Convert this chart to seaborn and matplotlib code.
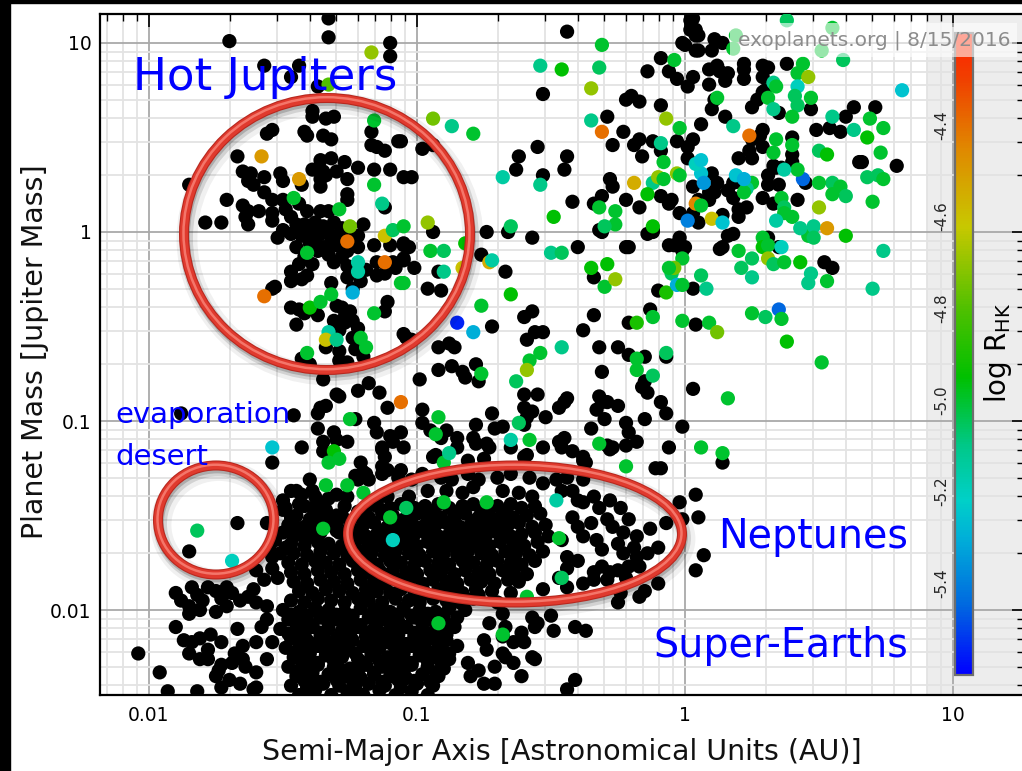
import numpy as np
import pandas as pd
import seaborn as sns
import matplotlib
matplotlib.use("Agg")
import matplotlib.pyplot as plt
from matplotlib.patches import Ellipse, Rectangle
from matplotlib.colors import LinearSegmentedColormap, Normalize
from matplotlib.cm import ScalarMappable
from matplotlib.ticker import FixedLocator, FixedFormatter, NullFormatter

# ---------------- data: (log10 a [AU], log10 M [M_Jup]) ----------------
hot_jupiters_black = [
    (-1.70,1.01),(-1.33,1.13),(-1.33,1.03),(-1.10,1.00),(-1.10,0.93),(-1.57,0.88),(-1.44,0.88),(-1.47,0.82),(-1.37,0.77),
    (-1.39,0.64),(-1.39,0.61),(-1.34,0.60),(-1.31,0.61),(-1.42,0.53),(-1.41,0.51),(-1.35,0.51),(-1.32,0.49),(-1.56,0.52),(-1.54,0.54),
    (-1.17,0.53),(-1.17,0.46),(-1.15,0.45),(-1.12,0.43),(-1.07,0.48),(-1.67,0.40),(-1.36,0.38),(-1.32,0.39),(-1.27,0.37),(-1.22,0.34),
    (-1.39,0.33),(-1.35,0.32),(-1.30,0.32),(-1.26,0.28),(-1.16,0.33),(-1.10,0.33),(-1.65,0.32),(-1.62,0.31),(-1.63,0.27),(-1.61,0.25),
    (-1.57,0.29),(-1.51,0.31),(-1.50,0.27),(-1.43,0.25),(-1.36,0.28),(-1.36,0.24),(-1.34,0.30),(-1.26,0.20),(-1.26,0.17),(-1.85,0.25),
    (-1.57,0.21),(-1.54,0.17),(-1.50,0.17),(-1.44,0.15),(-1.71,0.17),(-1.65,0.14),(-1.63,0.11),(-1.64,0.08),(-1.63,0.04),(-1.59,0.11),
    (-1.54,0.10),(-1.54,0.06),(-1.49,0.12),(-1.47,0.08),(-1.45,0.04),(-1.41,0.11),(-1.36,0.11),(-1.33,0.11),(-1.12,0.13),(-1.79,0.05),(-1.73,0.05),
    (-1.42,0.04),(-1.38,0.05),(-1.35,0.03),(-1.31,0.05),(-1.28,0.02),(-1.40,0.00),(-1.36,-0.01),(-1.33,0.00),(-1.29,-0.02),(-1.25,0.00),
    (-1.22,-0.02),(-1.38,-0.04),(-1.32,-0.05),(-1.27,-0.04),(-1.43,-0.02),(-1.20,0.04),(-1.47,-0.01),(-1.50,0.01),(-1.52,-0.03),
    (-1.40,-0.06),(-1.35,-0.08),(-1.30,-0.07),(-1.26,-0.10),(-1.33,-0.12),(-1.28,-0.13),(-1.37,-0.10),(-1.22,-0.08),(-1.45,-0.08),
    (-1.16,-0.07),(-1.10,-0.07),(-1.05,-0.07),(-1.05,-0.14),(-1.01,-0.19),(-1.54,-0.30),(-1.53,-0.29),
    (-1.47,-0.21),(-1.47,-0.26),(-1.43,-0.25),(-1.41,-0.23),(-1.39,-0.17),(-1.44,-0.17),(-1.42,-0.13),
    (-1.47,-0.40),(-1.44,-0.41),(-1.42,-0.43),(-1.37,-0.44),(-1.45,-0.49),(-1.34,-0.61),(-1.43,-0.67),(-1.29,-0.52),(-1.27,-0.48),(-1.31,-0.47),
    (-1.30,-0.39),(-1.28,-0.40),(-1.27,-0.45),(-1.25,-0.42),(-1.24,-0.47),(-1.22,-0.51),(-1.24,-0.56),(-1.23,-0.62),(-1.29,-0.63),(-1.26,-0.69),
    (-1.20,-0.66),(-1.40,-0.70),(-1.29,-0.68),(-1.32,-0.27),(-1.26,-0.24),(-1.24,-0.30),(-1.21,-0.26),(-1.31,-0.16),(-1.26,-0.18),(-1.24,-0.21),
    (-1.19,-0.20),(-1.15,-0.23),(-1.15,-0.16),(-1.12,-0.22),(-1.11,-0.37),(-1.12,-0.42),(-1.09,-0.16),(-1.08,-0.19),(-1.05,-0.54),(-1.04,-0.56),(-1.02,-0.57),
]

inner_black = [
    (-1.35,-0.78),(-1.29,-0.87),(-1.22,-0.84),(-1.18,-0.80),(-1.14,-0.85),(-1.11,-0.93),(-1.36,-0.93),(-1.34,-0.92),(-1.37,-1.04),(-1.31,-1.06),
    (-1.30,-1.10),(-1.26,-1.11),(-1.23,-0.99),(-1.16,-1.01),(-1.15,-1.06),(-1.10,-1.08),(-1.09,-1.11),(-1.06,-1.06),(-1.05,-1.14),(-1.35,-1.11),
    (-1.35,-1.16),(-1.43,-1.14),(-1.54,-1.22),(-1.46,-0.97),(-1.88,-0.96),(-1.37,-0.96),(-1.30,-0.86),(-1.13,-1.15),(-1.13,-1.24),(-1.19,-1.28),
    (-1.18,-1.31),(-1.40,-1.31),(-1.45,-1.37),(-1.43,-1.39),(-1.38,-1.40),(-1.39,-1.46),(-1.35,-1.44),(-1.30,-1.39),(-1.30,-1.50),(-1.21,-1.22),
    (-1.22,-1.31),(-1.15,-1.43),(-1.11,-1.50),(-1.35,-1.51),(-1.32,-1.51),(-1.49,-1.46),(-1.47,-1.51),(-1.50,-1.59),(-1.46,-1.61),(-1.46,-1.55),
    (-1.49,-1.67),(-1.51,-1.70),(-1.54,-1.78),(-1.52,-1.83),(-1.67,-1.54),(-1.85,-1.69),(-1.56,-1.54),(-1.57,-1.84),(-1.60,-1.79),(-1.54,-1.72),
    (-1.50,-1.47),(-1.42,-1.45),(-1.39,-1.37),(-1.47,-1.37),(-1.45,-1.50),(-1.40,-1.52),(-1.34,-1.47),(-1.27,-1.45),(-1.42,-1.56),
    (-1.50,-1.42),(-1.44,-1.44),(-1.38,-1.50),(-1.33,-1.41),(-1.28,-1.50),(-1.25,-1.53),(-1.30,-1.58),(-1.26,-1.62),(-1.48,-1.55),(-1.43,-1.60),
    (-1.36,-1.59),(-1.33,-1.55),(-1.22,-1.48),(-1.26,-1.40),(-1.53,-1.63),(-1.55,-1.68),
    (-1.13,-1.14),(-1.12,-1.19),(-1.06,-1.26),(-0.93,-1.18),(-0.85,-1.14),(-0.78,-1.12),(-0.73,-1.14),(-0.59,-1.18),(-0.53,-1.14),(-0.46,-1.14),
    (-0.38,-1.19),(-0.37,-1.22),(-0.27,-1.14),(-0.22,-1.13),(-0.09,-1.25),(-1.23,-1.29),(-1.20,-1.27),(-1.11,-1.26),
    (-1.13,-1.28),(-1.07,-1.30),(-1.02,-1.31),(-0.98,-1.28),(-0.91,-1.30),(-0.87,-1.31),(-0.81,-1.28),(-0.77,-1.31),(-0.70,-1.30),(-0.65,-1.28),
    (-0.58,-1.30),(-0.53,-1.33),(-0.48,-1.31),(-0.44,-1.30),(-0.38,-1.31),(-0.96,-1.37),(-0.89,-1.37),(-0.83,-1.38),(-0.79,-1.35),(-0.68,-1.37),
    (-0.62,-1.38),(-0.57,-1.40),(-0.46,-1.37),(-1.03,-1.40),(-1.11,-1.40),(-1.19,-1.46),(-1.22,-1.58),(-1.20,-1.72),(-1.14,-1.79),(-1.07,-1.84),
    (-0.98,-1.88),(-0.88,-1.91),(-0.77,-1.92),(-0.65,-1.91),(-0.53,-1.89),(-0.44,-1.88),(-0.34,-1.84),(-0.28,-1.80),(-0.17,-1.77),
]

neptune_core_black = [
    (-1.15,-1.45),(-1.10,-1.46),(-1.06,-1.44),(-1.01,-1.46),(-0.97,-1.45),(-0.92,-1.44),(-0.88,-1.46),(-0.83,-1.45),(-0.79,-1.44),(-0.74,-1.46),
    (-0.70,-1.45),(-0.65,-1.44),(-0.61,-1.46),(-0.56,-1.45),
    (-1.22,-1.50),(-1.18,-1.51),(-1.13,-1.49),(-1.09,-1.50),(-1.04,-1.51),(-1.00,-1.49),(-0.95,-1.50),(-0.91,-1.51),(-0.86,-1.50),(-0.82,-1.49),
    (-0.77,-1.51),(-0.73,-1.50),(-0.68,-1.49),(-0.64,-1.51),(-0.59,-1.50),(-0.54,-1.49),
    (-1.38,-1.55),(-1.30,-1.54),(-1.25,-1.56),(-1.20,-1.55),(-1.16,-1.54),(-1.11,-1.56),(-1.07,-1.55),(-1.02,-1.54),(-0.98,-1.56),(-0.93,-1.55),
    (-0.89,-1.54),(-0.84,-1.56),(-0.80,-1.55),(-0.75,-1.54),(-0.71,-1.56),(-0.66,-1.55),(-0.62,-1.54),(-0.57,-1.56),(-0.52,-1.55),
    (-1.44,-1.60),(-1.40,-1.61),(-1.29,-1.59),(-1.24,-1.60),(-1.19,-1.61),(-1.15,-1.60),(-1.10,-1.59),(-1.06,-1.61),(-1.01,-1.60),(-0.97,-1.59),
    (-0.92,-1.61),(-0.88,-1.60),(-0.83,-1.59),(-0.79,-1.61),(-0.74,-1.60),(-0.70,-1.59),(-0.65,-1.61),(-0.61,-1.60),(-0.56,-1.59),(-0.51,-1.61),
    (-1.47,-1.65),(-1.42,-1.66),(-1.37,-1.64),(-1.33,-1.65),(-1.28,-1.66),(-1.23,-1.64),(-1.18,-1.65),(-1.14,-1.66),(-1.09,-1.64),(-1.05,-1.65),
    (-1.00,-1.66),(-0.96,-1.64),(-0.91,-1.65),(-0.87,-1.66),(-0.82,-1.64),(-0.78,-1.65),(-0.73,-1.66),(-0.69,-1.64),(-0.64,-1.65),(-0.60,-1.66),(-0.55,-1.64),
    (-1.46,-1.70),(-1.41,-1.71),(-1.36,-1.69),(-1.31,-1.70),(-1.26,-1.71),(-1.21,-1.69),(-1.17,-1.70),(-1.12,-1.71),(-1.08,-1.69),(-1.03,-1.70),
    (-0.99,-1.71),(-0.94,-1.69),(-0.90,-1.70),(-0.85,-1.71),(-0.81,-1.69),(-0.76,-1.70),(-0.72,-1.71),(-0.67,-1.69),(-0.63,-1.70),(-0.58,-1.71),(-0.53,-1.69),
    (-1.48,-1.75),(-1.43,-1.76),(-1.38,-1.74),(-1.34,-1.75),(-1.29,-1.76),(-1.24,-1.74),(-1.19,-1.75),(-1.15,-1.76),(-1.10,-1.74),(-1.06,-1.75),
    (-1.01,-1.76),(-0.97,-1.74),(-0.92,-1.75),(-0.88,-1.76),(-0.83,-1.74),(-0.79,-1.75),(-0.74,-1.76),(-0.70,-1.74),(-0.65,-1.75),(-0.61,-1.76),(-0.56,-1.74),
    (-1.47,-1.80),(-1.42,-1.81),(-1.37,-1.79),(-1.32,-1.80),(-1.27,-1.81),(-1.22,-1.79),(-1.18,-1.80),(-1.13,-1.81),(-1.09,-1.79),(-1.04,-1.80),
    (-1.00,-1.81),(-0.95,-1.79),(-0.91,-1.80),(-0.86,-1.81),(-0.82,-1.79),(-0.77,-1.80),(-0.73,-1.81),(-0.68,-1.79),(-0.64,-1.80),(-0.59,-1.81),
    (-1.46,-1.85),(-1.41,-1.86),(-1.36,-1.84),(-1.31,-1.85),(-1.26,-1.86),(-1.21,-1.84),(-1.16,-1.85),(-1.12,-1.86),(-1.07,-1.84),(-1.03,-1.85),
    (-0.98,-1.86),(-0.94,-1.84),(-0.89,-1.85),(-0.85,-1.86),(-0.80,-1.84),(-0.76,-1.85),(-0.71,-1.86),(-0.66,-1.84),(-0.62,-1.85),
    (-1.44,-1.90),(-1.39,-1.91),(-1.34,-1.89),(-1.29,-1.90),(-1.24,-1.91),(-1.19,-1.89),(-1.15,-1.90),(-1.10,-1.91),(-1.06,-1.89),(-1.01,-1.90),
    (-0.97,-1.91),(-0.92,-1.89),(-0.87,-1.90),(-0.83,-1.91),(-0.78,-1.89),(-0.72,-1.90),
    (-1.47,-1.95),(-1.42,-1.96),(-1.37,-1.94),(-1.32,-1.95),(-1.27,-1.96),(-1.22,-1.94),(-1.18,-1.95),(-1.13,-1.96),(-1.08,-1.94),(-1.03,-1.95),
    (-0.99,-1.96),(-0.94,-1.94),(-0.89,-1.95),(-0.84,-1.96),(-0.79,-1.94),
    (-1.12,-1.475),(-1.03,-1.48),(-0.94,-1.475),(-0.85,-1.48),(-0.76,-1.475),(-0.67,-1.48),(-1.20,-1.53),(-1.06,-1.53),(-0.96,-1.525),
    (-0.86,-1.53),(-0.78,-1.525),(-0.69,-1.53),(-1.13,-1.58),(-1.04,-1.575),(-0.94,-1.58),(-0.85,-1.575),(-0.76,-1.58),(-0.67,-1.575),
    (-1.12,-1.63),(-1.02,-1.625),(-0.93,-1.63),(-0.84,-1.625),(-0.75,-1.63),(-1.10,-1.68),(-1.01,-1.675),(-0.92,-1.68),(-0.83,-1.675),
]

neptune_outer_black = [
    (-0.42,-1.37),(-0.40,-1.42),(-0.38,-1.43),(-0.34,-1.40),(-0.32,-1.46),(-0.28,-1.42),(-0.24,-1.46),(-0.21,-1.52),(-0.23,-1.59),(-0.18,-1.61),
    (-0.25,-1.65),(-0.31,-1.68),(-0.23,-1.70),(-0.18,-1.72),(-0.21,-1.77),(-0.25,-1.79),(-0.31,-1.77),(-0.34,-1.80),(-0.38,-1.86),(-0.29,-1.84),
    (-0.22,-1.83),(-0.33,-1.63),(-0.38,-1.61),(-0.35,-1.54),(-0.40,-1.56),(-0.42,-1.51),(-0.29,-1.52),(-0.27,-1.56),(-0.14,-1.70),(-0.19,-1.67),
    (-0.46,-1.63),(-0.44,-1.72),(-0.40,-1.74),(-0.47,-1.83),(-0.44,-1.78),(-0.13,-1.57),(-0.10,-1.67),(-0.07,-1.54),(-0.02,-1.43),(0.04,-1.39),
    (0.05,-1.51),(-0.01,-1.52),(0.07,-1.71),(0.04,-1.79),(-0.10,-1.86),(-0.15,-1.90),(-0.17,-1.93),(-0.24,-1.91),(-0.25,-1.96),
    (-0.70,-1.96),(-0.68,-2.02),(-0.73,-2.07),(-0.67,-2.09),(-0.64,-2.17),(-0.61,-2.12),(-0.57,-2.04),(-0.56,-2.09),(-0.50,-2.03),(-0.49,-2.11),
    (-0.41,-2.09),(-0.37,-2.11),(-0.75,-2.16),(-0.74,-2.21),(-0.67,-2.25),(-0.64,-2.28),(-0.56,-2.26),(-0.61,-2.35),(-0.41,-2.37),(-0.44,-2.42),
    (-0.80,-2.35),(-0.75,-2.39),(-0.71,-2.39),(-0.71,-2.30),(-0.81,-2.28),(-0.77,-2.32),(-0.55,-2.07),(-0.57,-2.25),(-0.68,-2.23),(-0.68,-2.14),(-0.60,-2.17),
]

super_earth_black = [
    (-1.50,-2.00),(-1.44,-2.01),(-1.38,-1.99),(-1.33,-2.00),(-1.27,-2.01),(-1.21,-1.99),(-1.16,-2.00),(-1.10,-2.01),(-1.05,-1.99),(-0.99,-2.00),
    (-0.93,-2.01),(-0.88,-1.99),(-0.82,-2.00),
    (-1.48,-2.05),(-1.42,-2.06),(-1.36,-2.04),(-1.30,-2.05),(-1.24,-2.06),(-1.18,-2.04),(-1.13,-2.05),(-1.07,-2.06),(-1.01,-2.04),(-0.96,-2.05),
    (-0.90,-2.06),(-0.85,-2.04),
    (-1.51,-2.10),(-1.45,-2.11),(-1.39,-2.09),(-1.33,-2.10),(-1.28,-2.11),(-1.22,-2.09),(-1.16,-2.10),(-1.10,-2.11),(-1.04,-2.09),(-0.98,-2.10),
    (-0.92,-2.11),(-0.86,-2.09),
    (-1.47,-2.15),(-1.41,-2.16),(-1.36,-2.14),(-1.30,-2.15),(-1.24,-2.16),(-1.19,-2.14),(-1.13,-2.15),(-1.07,-2.16),(-1.01,-2.14),(-0.95,-2.15),(-0.89,-2.16),
    (-1.49,-2.20),(-1.43,-2.21),(-1.37,-2.19),(-1.31,-2.20),(-1.26,-2.21),(-1.20,-2.19),(-1.14,-2.20),(-1.08,-2.21),(-1.02,-2.19),(-0.97,-2.20),
    (-0.91,-2.21),(-0.85,-2.19),
    (-1.46,-2.25),(-1.40,-2.26),(-1.34,-2.24),(-1.28,-2.25),(-1.22,-2.26),(-1.17,-2.24),(-1.11,-2.25),(-1.05,-2.26),(-0.99,-2.24),(-0.93,-2.25),(-0.88,-2.26),
    (-1.48,-2.30),(-1.42,-2.31),(-1.37,-2.29),(-1.31,-2.30),(-1.25,-2.31),(-1.19,-2.29),(-1.13,-2.30),(-1.08,-2.31),(-1.02,-2.29),(-0.96,-2.30),(-0.90,-2.31),
    (-1.45,-2.35),(-1.39,-2.36),(-1.33,-2.34),(-1.27,-2.35),(-1.21,-2.36),(-1.16,-2.34),(-1.10,-2.35),(-1.04,-2.36),(-0.98,-2.34),(-0.92,-2.35),
    (-1.47,-2.40),(-1.41,-2.41),(-1.35,-2.39),(-1.29,-2.40),(-1.23,-2.41),(-1.18,-2.39),(-1.12,-2.40),(-1.06,-2.41),(-1.00,-2.39),(-0.94,-2.40),
    (-1.44,-2.45),(-1.32,-2.45),(-1.20,-2.45),(-1.08,-2.45),(-0.96,-2.45),
    (-1.90,-1.91),(-1.88,-1.95),(-1.85,-1.98),(-1.82,-1.92),(-1.80,-1.95),(-1.75,-1.90),(-1.73,-1.94),(-1.69,-1.91),(-1.66,-1.95),(-1.63,-1.93),
    (-1.61,-1.89),(-1.84,-1.88),(-1.78,-1.88),(-1.71,-1.88),(-1.85,-2.02),(-1.81,-2.00),(-1.75,-2.01),(-1.71,-1.98),(-1.60,-1.96),(-1.56,-1.98),
    (-1.90,-2.09),(-1.81,-2.15),(-1.77,-2.13),(-1.73,-2.17),(-1.84,-2.17),(-1.85,-2.23),(-1.78,-2.26),(-1.73,-2.29),(-1.68,-2.23),(-1.65,-2.19),
    (-1.60,-2.17),(-1.64,-2.30),(-1.60,-2.33),(-1.70,-2.37),(-1.73,-2.41),(-1.96,-2.33),(-1.93,-2.43),(-2.04,-2.23),(-1.67,-2.10),(-1.58,-2.09),
    (-1.56,-2.05),(-1.82,-2.43),(-1.60,-2.41),(-1.87,-2.16),(-1.78,-2.21),(-1.81,-2.26),(-1.74,-2.32),(-1.69,-2.28),(-1.65,-2.26),(-1.75,-2.35),
    (-1.66,-2.39),(-1.61,-2.42),(-1.56,-2.26),(-1.54,-2.17),
]

super_earth_fill = [
    (-1.47,-2.025),(-1.41,-2.03),(-1.35,-2.02),(-1.30,-2.025),(-1.24,-2.03),(-1.13,-2.02),(-1.07,-2.025),(-1.02,-2.03),(-0.96,-2.02),(-0.90,-2.025),
    (-1.45,-2.075),(-1.39,-2.08),(-1.33,-2.07),(-1.27,-2.075),(-1.21,-2.08),(-1.15,-2.07),(-1.10,-2.075),(-0.98,-2.07),(-0.93,-2.075),(-0.87,-2.08),
    (-1.48,-2.125),(-1.42,-2.13),(-1.36,-2.12),(-1.25,-2.13),(-1.19,-2.12),(-1.13,-2.125),(-1.07,-2.13),(-1.01,-2.12),(-0.95,-2.125),(-0.89,-2.13),
    (-1.44,-2.175),(-1.38,-2.18),(-1.33,-2.17),(-1.27,-2.175),(-1.16,-2.17),(-1.10,-2.175),(-1.04,-2.18),(-0.98,-2.17),(-0.92,-2.175),
    (-1.46,-2.225),(-1.40,-2.23),(-1.34,-2.22),(-1.28,-2.225),(-1.23,-2.23),(-1.17,-2.22),(-1.05,-2.23),(-0.99,-2.22),(-0.94,-2.225),(-0.88,-2.23),
    (-1.43,-2.275),(-1.37,-2.28),(-1.31,-2.27),(-1.20,-2.28),(-1.14,-2.27),(-1.08,-2.275),(-1.02,-2.28),(-0.96,-2.27),(-0.91,-2.275),
    (-1.45,-2.325),(-1.39,-2.33),(-1.28,-2.32),(-1.22,-2.325),(-1.16,-2.33),(-1.10,-2.32),(-1.05,-2.325),(-0.93,-2.33),
    (-1.42,-2.375),(-1.36,-2.38),(-1.30,-2.37),(-1.24,-2.375),(-1.13,-2.38),(-1.07,-2.37),(-1.01,-2.375),(-0.95,-2.38),
    (-1.38,-2.425),(-1.26,-2.43),(-1.14,-2.425),(-1.02,-2.43),
]

mid_black = [
    (-0.44,1.06),(-0.53,0.73),(-0.29,0.61),(-0.23,0.53),(-0.27,0.46),(-0.22,0.70),(-0.20,0.72),(-0.17,0.69),(-0.14,0.85),(-0.09,0.92),
    (-0.06,0.85),(-0.03,0.81),(0.01,0.77),(0.00,0.99),(0.03,1.13),(0.02,1.07),(0.04,1.04),(0.04,0.96),(0.03,0.82),(-0.09,0.67),
    (-0.19,0.46),(-0.17,0.49),(-0.12,0.48),(-0.09,0.43),(-0.16,0.40),(-0.03,0.48),(0.01,0.45),(0.03,0.49),(0.01,0.39),(0.06,0.57),
    (-0.28,0.28),(-0.27,0.24),(-0.09,0.19),(-0.05,0.17),(-0.06,0.15),(-0.22,0.17),(-0.17,0.13),(-0.31,0.19),(-0.34,0.15),(-0.32,0.01),
    (-0.31,0.00),(-0.12,0.00),(-0.02,0.10),(0.03,0.24),(-0.42,0.16),(-0.55,0.45),(-0.62,0.40),(-0.63,0.33),(-0.53,0.30),(-0.44,0.40),
    (-0.45,0.33),(-0.98,0.44),(-0.94,0.46),(-1.05,0.29),(-1.02,0.29),(-0.94,0.00),(-0.74,0.00),(-0.66,0.00),(-0.57,-0.03),(-1.06,0.48),
    (-1.05,-0.06),(-1.03,-0.08),(-1.05,-0.15),(-0.92,-0.21),(-0.96,-0.30),(-0.91,-0.31),(-0.76,-0.12),(-0.67,-0.21),(-0.72,-0.50),
    (-0.92,-0.61),(-0.88,-0.59),(-0.86,-0.61),(-0.60,-0.45),(-0.57,-0.42),(-0.59,-0.57),(-0.56,-0.53),(-0.53,-0.53),(-0.40,-0.08),
    (-0.92,-0.73),(-0.87,-0.71),(-0.83,-0.74),(-0.82,-0.77),(-0.78,-0.70),(-0.77,-0.79),(-0.99,-0.78),(-0.98,-0.94),(-0.60,-0.86),
    (-0.55,-0.86),(-0.60,-0.93),(-0.57,-0.95),(-0.59,-0.98),(-0.52,-0.98),(-0.47,-0.93),(-0.45,-0.90),(-0.44,-0.88),(-0.72,-0.96),
    (-0.60,-1.02),(-0.68,-1.03),(-0.71,-1.04),(-0.78,-1.02),(-0.98,-1.01),(-0.95,-1.05),(-0.89,-1.05),(-0.91,-1.09),(-0.85,-1.09),
    (-0.79,-1.09),(-0.74,-1.12),(-0.65,-1.14),(-0.47,-1.11),(-0.45,-1.09),(-0.94,-1.19),(-0.81,-1.21),(-0.75,-1.20),(-0.60,-1.19),
    (-0.42,-1.16),(-0.38,-1.21),(-0.29,-1.13),(-0.28,-1.15),(-0.35,-1.04),(-0.30,-0.99),(-0.32,-0.87),(-0.31,-0.90),(-0.29,-0.90),
    (-0.25,-0.92),(-0.33,-0.94),(-0.22,-1.01),(-0.21,-1.06),(-0.18,-1.11),(-0.15,-0.99),(-0.09,-0.90),(-0.07,-0.96),(-0.15,-0.79),
    (-0.14,-0.85),(-0.16,-0.82),(-0.01,-1.03),(-0.06,-1.14),(0.14,-1.22),(-0.11,-1.25),(-0.31,-0.74),(-0.32,-0.61),(-0.25,-0.61),
    (-0.21,-0.65),(-0.15,-0.66),(-0.07,-0.66),(-0.34,-0.44),(-0.38,-0.52),(-0.21,-0.48),(-0.13,-0.41),(-0.34,-0.24),(-0.22,-0.08),
    (-0.14,-0.01),(-0.10,-0.31),(-0.06,-0.07),(-0.02,-0.03),(-0.01,-0.10),(0.03,-0.30),(0.04,-0.49),(0.03,-0.83),(0.13,-0.09),
    (0.16,-0.02),(0.35,-0.08),(0.52,-0.16),(0.55,-0.19),(0.31,-0.03),
]

giants_black = [
    (0.02,1.12),(0.04,1.07),(0.05,1.04),(0.11,1.02),(0.14,1.00),(0.10,0.96),(-0.01,1.00),(0.05,0.96),(0.09,0.86),(0.12,0.88),
    (0.13,0.85),(0.16,0.84),(0.09,0.78),(0.15,0.80),(0.22,0.89),(0.22,0.86),(0.22,0.81),(0.29,0.88),(0.31,0.87),(0.29,0.82),
    (0.38,0.89),(0.30,0.75),(0.29,0.74),(0.27,0.70),(0.25,0.66),(0.11,0.70),(0.10,0.65),(0.15,0.61),(0.35,0.63),(0.47,0.65),
    (0.60,0.61),(0.63,0.66),(0.71,0.66),(0.49,0.54),(0.54,0.55),(0.58,0.53),(0.29,0.54),(0.28,0.51),(0.25,0.49),(0.29,0.45),
    (0.40,0.50),(0.20,0.39),(0.25,0.39),(0.24,0.43),(0.40,0.41),(0.40,0.37),(0.33,0.35),(0.34,0.34),(0.36,0.34),(0.65,0.37),
    (0.66,0.37),(0.79,0.35),(0.45,0.26),(0.31,0.30),(0.35,0.25),(0.31,0.25),(0.29,0.18),(0.33,0.15),(0.42,0.17),(0.18,0.18),
    (0.16,0.22),(0.23,0.13),(0.20,0.12),(0.10,0.31),(0.12,0.26),(0.18,0.26),(0.21,0.26),(0.09,0.21),(0.11,0.21),(0.09,0.17),
    (0.05,0.17),(0.03,0.10),(0.05,0.05),(0.14,0.09),(0.20,0.08),(0.18,-0.01),(0.14,-0.08),(0.00,-0.08),(-0.04,-0.07),(-0.12,0.01),(-0.21,-0.08),
]

# ---------------- data: (log10 a, log10 M, log R'HK) ----------------
hot_jupiters_rhk = [
    (-1.17,0.95,-4.70),(-1.33,0.78,-4.80),(-1.16,0.59,-5.00),(-1.58,0.40,-4.50),(-1.16,0.25,-5.00),(-1.44,0.28,-4.50),(-1.46,0.18,-5.00),
    (-1.29,0.12,-5.00),(-1.13,0.15,-5.10),(-1.25,0.03,-4.75),(-1.12,-0.02,-4.60),(-1.09,0.01,-5.05),(-1.57,-0.34,-4.40),(-1.41,-0.11,-5.00),
    (-1.40,-0.40,-4.95),(-1.36,-0.37,-5.00),(-1.32,-0.33,-5.00),(-1.33,-0.53,-5.15),(-1.34,-0.57,-4.60),(-1.41,-0.64,-5.00),(-1.30,-0.57,-5.10),
    (-1.21,-0.56,-5.00),(-1.19,-0.61,-5.00),(-1.24,-0.32,-5.30),(-1.22,-0.16,-5.15),(-1.22,-0.21,-5.15),(-1.16,-0.43,-5.00),(-1.12,-0.16,-4.40),
    (-1.06,-0.27,-5.00),(-1.26,-0.05,-4.40),
]

inner_rhk = [
    (-1.06,-0.90,-4.40),(-1.25,-0.99,-5.00),(-1.31,-1.16,-4.95),(-1.29,-1.20,-5.00),(-1.33,-1.22,-5.00),(-1.54,-1.14,-5.25),
    (-1.26,-1.34,-5.00),(-1.20,-1.38,-5.00),(-1.35,-1.57,-5.00),(-1.34,-1.34,-5.00),(-0.90,-1.22,-5.00),
    (-1.82,-1.58,-5.05),(-1.69,-1.74,-5.20),
    (-0.47,-1.62,-5.00),(-0.46,-1.83,-5.05),(-0.59,-1.93,-5.00),(-0.74,-1.43,-5.00),(-0.90,-1.43,-5.00),(-1.04,-1.46,-5.05),
    (-1.10,-1.51,-5.00),(-0.48,-1.42,-5.15),(-1.09,-1.63,-5.20),(-0.92,-2.07,-5.00),(-0.68,-2.13,-5.00),
]

mid_rhk = [
    (-0.31,0.99,-5.00),(-0.54,0.88,-5.10),(-0.46,0.86,-4.95),(-0.32,0.87,-5.05),(-0.35,0.76,-4.70),(-0.35,0.59,-5.10),(-0.31,0.53,-4.40),
    (-0.04,0.91,-5.00),(-0.07,0.60,-4.70),(-0.02,0.55,-5.00),(-0.09,0.47,-5.10),(-0.08,0.37,-5.00),(-0.12,0.26,-5.10),(-0.10,0.29,-4.70),
    (-0.08,0.28,-5.00),(-0.19,0.26,-4.55),(-0.14,0.20,-4.95),(-0.03,0.31,-4.70),(-0.02,0.30,-5.00),(-0.32,0.13,-5.00),(-0.26,0.11,-5.00),
    (-0.26,0.04,-5.00),(-0.30,0.03,-5.05),(-0.12,0.03,-4.95),(-0.49,0.08,-4.95),(-0.65,0.03,-5.05),(-0.54,0.25,-5.10),(-0.68,0.29,-5.15),
    (-0.94,0.60,-4.75),(-0.87,0.56,-5.10),(-0.79,0.52,-5.00),(-0.96,0.05,-4.70),(-1.05,0.03,-5.00),
    (-0.95,-0.10,-5.00),(-0.90,-0.10,-5.05),(-0.82,-0.06,-4.95),(-0.90,-0.21,-5.10),(-0.83,-0.19,-4.60),(-0.73,-0.16,-4.55),(-0.72,-0.15,-5.15),
    (-1.05,-0.27,-5.00),(-0.65,-0.33,-4.95),(-0.76,-0.39,-5.00),(-0.85,-0.48,-5.55),(-0.79,-0.53,-5.30),(-0.50,-0.11,-5.10),(-0.46,-0.11,-5.05),
    (-0.46,-0.61,-5.10),(-0.58,-0.68,-5.00),(-0.54,-0.64,-5.00),(-0.59,-0.73,-4.70),(-0.76,-0.75,-5.00),(-0.63,-0.79,-5.05),(-0.92,-0.98,-5.00),
    (-0.62,-1.01,-5.05),(-0.93,-1.07,-5.00),(-0.65,-1.10,-5.15),(-0.58,-1.10,-5.00),(-0.88,-1.17,-5.10),(-0.32,-1.12,-5.00),(0.06,-1.14,-5.00),
    (0.14,-1.17,-5.00),(-0.22,-1.24,-5.00),(-0.18,-0.67,-5.00),(-0.07,-0.64,-5.05),(-0.18,-0.73,-5.00),(-0.12,-0.76,-5.05),(-0.18,-0.48,-4.90),
    (-0.12,-0.45,-5.00),(-0.30,-0.29,-5.00),(-0.35,-0.19,-4.95),(-0.29,-0.17,-4.95),(-0.26,-0.25,-4.70),(-0.07,-0.32,-4.90),(-0.01,-0.14,-5.00),
    (-0.05,-0.22,-5.05),(-0.04,-0.19,-4.75),(-0.06,-0.19,-5.00),(-0.03,-0.28,-5.30),(-0.01,-0.28,-5.00),(0.08,-0.30,-5.10),(0.06,-0.23,-5.05),
    (-0.01,-0.47,-5.00),(0.09,-0.48,-5.00),(0.12,-0.53,-4.75),(0.16,-0.88,-5.00),
]

giants_rhk = [
    (0.20,-0.10,-5.00),(0.21,-0.19,-5.05),(0.25,-0.14,-5.05),(0.25,-0.24,-5.10),(0.29,-0.03,-5.00),(0.29,-0.08,-4.95),(0.31,-0.07,-5.00),
    (0.31,-0.14,-4.70),(0.33,-0.17,-5.05),(0.37,-0.16,-5.00),(0.36,-0.08,-5.20),(0.43,-0.16,-4.95),(0.46,-0.02,-5.00),(0.47,-0.22,-5.10),
    (0.46,-0.27,-5.10),(0.53,-0.26,-5.00),(0.60,-0.02,-4.95),(0.74,-0.10,-5.10),(0.70,-0.30,-5.10),(0.25,-0.43,-5.00),(0.30,-0.45,-5.05),
    (0.35,-0.41,-5.45),(0.36,-0.46,-5.00),(0.38,-0.58,-4.95),(0.51,-0.69,-5.00),
    (0.18,0.97,-5.00),(0.19,1.04,-5.00),(0.38,1.12,-5.05),(0.55,1.08,-5.00),(0.59,0.91,-5.05),(0.51,0.96,-5.00),(0.44,0.89,-5.00),
    (0.42,0.84,-5.00),(0.46,0.82,-4.70),(0.33,0.79,-5.10),(0.34,0.77,-5.00),(0.42,0.77,-5.20),(0.47,0.71,-5.00),(0.41,0.72,-5.05),
    (0.42,0.67,-5.05),(0.31,0.71,-5.00),(0.12,0.71,-5.00),(0.33,0.65,-5.10),(0.40,0.61,-5.00),(0.55,0.61,-5.10),(0.69,0.60,-5.00),
    (0.74,0.55,-5.00),(0.81,0.75,-5.25),(0.68,0.50,-4.95),(0.63,0.54,-5.10),(0.18,0.56,-5.10),(0.24,0.51,-4.40),(0.34,0.49,-5.00),
    (0.40,0.46,-5.00),(0.33,0.42,-5.00),(0.50,0.43,-5.05),(0.53,0.41,-4.95),(0.73,0.42,-5.00),(0.68,0.29,-5.05),(0.72,0.30,-5.05),
    (0.74,0.28,-5.00),(0.70,0.16,-5.00),(0.55,0.26,-5.05),(0.58,0.24,-5.00),(0.60,0.19,-5.05),(0.50,0.26,-5.00),(0.55,0.20,-5.00),
    (0.50,0.13,-4.70),(0.44,0.28,-5.45),(0.42,0.33,-5.00),(0.37,0.33,-5.15),(0.36,0.18,-5.00),(0.37,0.13,-5.05),(0.37,0.10,-5.00),
    (0.40,0.08,-5.00),(0.34,0.06,-5.15),(0.25,0.26,-5.00),(0.23,0.23,-5.10),(0.22,0.21,-5.00),(0.06,0.31,-5.25),(0.04,0.36,-5.20),
    (0.06,0.38,-5.25),(0.07,0.26,-5.35),(0.19,0.30,-5.25),(0.22,0.28,-5.30),(0.04,0.15,-4.45),(0.06,0.14,-5.00),(0.01,0.06,-5.40),
    (0.10,0.07,-4.60),(0.14,0.05,-5.25),(0.43,0.02,-5.10),(0.48,0.03,-5.10),(0.53,0.02,-4.50),(0.48,-0.03,-5.05),
]

x_tick_values = [0.01, 0.1, 1, 10]
x_tick_labels = ["0.01", "0.1", "1", "10"]
y_tick_values = [0.01, 0.1, 1, 10]
y_tick_labels = ["0.01", "0.1", "1", "10"]
cbar_ticks = [-5.4, -5.2, -5.0, -4.8, -4.6, -4.4]
cbar_labels = ["-5.4", "-5.2", "-5.0", "-4.8", "-4.6", "-4.4"]
rhk_range = (-5.6, -4.2)

# ---------------- build tables ----------------
black = pd.DataFrame(hot_jupiters_black + inner_black + neptune_core_black + neptune_outer_black
                     + super_earth_black + super_earth_fill + mid_black + giants_black,
                     columns=["log_a", "log_m"])
black["a"] = 10 ** black["log_a"]
black["m"] = 10 ** black["log_m"]
active = pd.DataFrame(hot_jupiters_rhk + inner_rhk + mid_rhk + giants_rhk, columns=["log_a", "log_m", "rhk"])
active["a"] = 10 ** active["log_a"]
active["m"] = 10 ** active["log_m"]

cmap = LinearSegmentedColormap.from_list("rhk", [
    (0.000, "#0000ff"), (0.107, "#0068e0"), (0.214, "#00b0d8"), (0.271, "#00d0c8"),
    (0.357, "#00c888"), (0.464, "#00c000"), (0.571, "#50c000"), (0.700, "#c8c800"),
    (0.821, "#e08800"), (0.929, "#f04000"), (1.000, "#ff2000")])
norm = Normalize(*rhk_range)

# ---------------- figure ----------------
sns.set_theme(style="white")
plt.rcParams["font.family"] = ["DejaVu Sans"]

W, H = 1022, 771
fig = plt.figure(figsize=(W / 100, H / 100), dpi=100)
fig.patch.set_facecolor("white")

def fx(x):
    return x / W

def fy(y):
    return 1 - y / H

ax = fig.add_axes([fx(100), fy(695), (1024 - 100) / W, (695 - 14) / H])
ax.set_facecolor("white")

MS = 105
sns.scatterplot(data=black, x="a", y="m", color="black", s=MS, edgecolor="none",
                linewidth=0, ax=ax, zorder=3)
sns.scatterplot(data=active, x="a", y="m", hue="rhk", palette=cmap, hue_norm=norm,
                s=MS, edgecolor="none", linewidth=0, legend=False, ax=ax, zorder=4)

ax.set_xscale("log")
ax.set_yscale("log")
ax.set_xlim(10 ** -2.1828, 10 ** 1.2649)
ax.set_ylim(10 ** -2.4497, 10 ** 1.1534)
ax.set_xlabel("")
ax.set_ylabel("")

ax.xaxis.set_major_locator(FixedLocator(x_tick_values))
ax.xaxis.set_major_formatter(FixedFormatter(x_tick_labels))
ax.yaxis.set_major_locator(FixedLocator(y_tick_values))
ax.yaxis.set_major_formatter(FixedFormatter(y_tick_labels))
minor_x = [m * 10.0 ** e for e in range(-3, 2) for m in range(2, 10)]
ax.xaxis.set_minor_locator(FixedLocator(minor_x))
ax.yaxis.set_minor_locator(FixedLocator(minor_x))
ax.xaxis.set_minor_formatter(NullFormatter())
ax.yaxis.set_minor_formatter(NullFormatter())

ax.set_axisbelow(True)
ax.grid(True, which="major", color="#a9a9a9", lw=1.3)
ax.grid(True, which="minor", color="#e3e3e3", lw=1.3)
ax.tick_params(which="both", direction="in", top=True, right=True, colors="black",
               labelsize=13.5)
ax.tick_params(which="major", length=9, width=1.2)
ax.tick_params(which="minor", length=5, width=1.0)
ax.tick_params(axis="x", pad=8)
ax.tick_params(axis="y", pad=6)
for sp in ax.spines.values():
    sp.set_color("black")
    sp.set_linewidth(1.6)

# gray panel behind the colour bar
ax.add_patch(Rectangle(((927 - 100) / 924, 0), 1, 1, transform=ax.transAxes,
                       facecolor="#ededed", edgecolor="none", zorder=0.2))

# colour bar
cax = fig.add_axes([fx(955), fy(675), 18 / W, (675 - 33) / H])
cb = fig.colorbar(ScalarMappable(norm=norm, cmap=cmap), cax=cax)
cb.set_ticks(cbar_ticks)
cb.set_ticklabels(cbar_labels)
cb.outline.set_edgecolor("#6e6e6e")
cb.outline.set_linewidth(1.6)
cax.yaxis.set_ticks_position("both")
cax.tick_params(direction="in", length=5, width=1.4, color="#222222",
                labelleft=True, labelright=False, labelsize=11, pad=4)
for lab in cax.get_yticklabels():
    lab.set_rotation(90)
    lab.set_va("center")
fig.text(fx(998), fy(353), r"log R$_\mathregular{HK}$", rotation=90, fontsize=20,
         ha="center", va="center", color="black")

# axis titles
fig.text(fx(562), fy(752), "Semi-Major Axis [Astronomical Units (AU)]", fontsize=20.5,
         ha="center", va="center", color="#111111")
fig.text(fx(35), fy(352), "Planet Mass [Jupiter Mass]", fontsize=20.5, rotation=90,
         ha="center", va="center", color="#111111")

# watermark
fig.text(fx(1010), fy(40), "exoplanets.org | 8/15/2016", fontsize=14.5, color="#8c8c8c",
         ha="right", va="center", zorder=8,
         bbox=dict(boxstyle="square,pad=0.35", facecolor="white", alpha=0.6, edgecolor="none"))

# red rings
def ring(cx, cy, w, h):
    for dx, dy, lw, al in [(3, 5, 15, 0.06), (2, 4, 10, 0.12), (1, 3, 7, 0.18)]:
        fig.add_artist(Ellipse((fx(cx + dx), fy(cy + dy)), w / W, h / H, transform=fig.transFigure,
                               fill=False, ec=(0, 0, 0, al), lw=lw, zorder=6))
    fig.add_artist(Ellipse((fx(cx), fy(cy)), w / W, h / H, transform=fig.transFigure,
                           fill=False, ec="#b8281f", lw=7.2, zorder=7))
    fig.add_artist(Ellipse((fx(cx), fy(cy)), w / W, h / H, transform=fig.transFigure,
                           fill=False, ec="#e03a2e", lw=5.6, zorder=7))
    fig.add_artist(Ellipse((fx(cx - 0.5), fy(cy - 0.8)), w / W, h / H, transform=fig.transFigure,
                           fill=False, ec="#f4766a", lw=1.8, zorder=7))

ring(327, 234, 286, 272)
ring(216, 520, 116, 109)
ring(515, 534, 334, 137)

# annotations
blue = "#0000ff"
fig.text(fx(133), fy(90), "Hot Jupiters", fontsize=32.5, color=blue, va="baseline", zorder=9)
fig.text(fx(115), fy(423), "evaporation", fontsize=21, color=blue, va="baseline", zorder=9)
fig.text(fx(115), fy(465), "desert", fontsize=21, color=blue, va="baseline", zorder=9)
fig.text(fx(908), fy(548), "Neptunes", fontsize=28.5, color=blue, ha="right", va="baseline", zorder=9)
fig.text(fx(908), fy(657), "Super-Earths", fontsize=28.5, color=blue, ha="right", va="baseline", zorder=9)

# black frame strips of the screenshot
fig.add_artist(Rectangle((0, 0), fx(10), 1, transform=fig.transFigure, color="black", zorder=20))
fig.add_artist(Rectangle((0, fy(3)), 1, 3 / H, transform=fig.transFigure, color="black", zorder=20))

fig.savefig("out.png", dpi=100, facecolor=fig.get_facecolor())
